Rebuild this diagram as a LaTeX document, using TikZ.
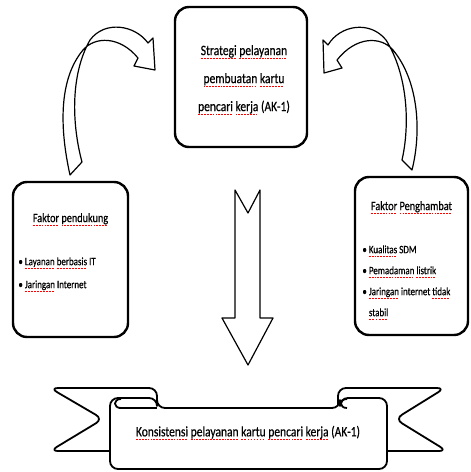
\documentclass[tikz,border=0pt]{standalone}
\usepackage{fontspec}
\setmainfont{Carlito}[FakeStretch=0.8, FakeBold=0.6]
\usetikzlibrary{positioning}
% red spell-check marks under some words
\newsavebox\typobox
\newcommand\typo[1]{\sbox\typobox{#1}\rlap{\color{red}\hbox to \wd\typobox{\xleaders\hbox{\rule[-1.9pt]{0.9pt}{0.5pt}\kern0.5pt}\hfill}}\usebox\typobox}
\tikzset{
box/.style={draw, line width=1.2pt, rounded corners=7pt, fill=white, inner sep=0pt},
txt/.style={inner sep=0pt, font=\fontsize{7.2}{14}\selectfont, align=center},
title/.style={txt, font=\fontsize{6.4}{8}\selectfont},
list/.style={inner sep=0pt, align=left, anchor=north west},
blockarrow/.style={draw, line width=0.6pt, fill=white, line join=round},
ribbon/.style={draw, line width=0.9pt, fill=white, line join=round},
}

\begin{document}
\begin{tikzpicture}[x=0.5pt, y=-0.5pt]
        \useasboundingbox (0,0) rectangle (471,472);
        % boxes
        \node[box, minimum width=66pt, minimum height=70pt] (strategi) at (241,77) {};
        \node[txt] (strategiT) at (244,80) {\typo{Strategi} \typo{pelayanan}\\ \typo{pembuatan} \typo{kartu}\\ \typo{pencari} \typo{kerja} (AK-1)};
        \node[box, minimum width=57.5pt, minimum height=77.5pt] (pendukung) at (70.5,259.5) {};
        \node[title, below=16pt of pendukung.north] (pendukungT) {\typo{Faktor} \typo{pendukung}};
        \node[list, font=\fontsize{5.6}{11.5}\selectfont] (pendukungL) at (18,257)
            {\textbullet\ \typo{Layanan} \typo{berbasis} IT\\ \textbullet\ \typo{Jaringan} Internet};
        \node[box, minimum width=56.5pt, minimum height=79pt] (penghambat) at (411.5,256) {};
        \node[title, below=12.5pt of penghambat.north] (penghambatT) {\typo{Faktor} \typo{Penghambat}};
        \node[list, font=\fontsize{5.6}{10.5}\selectfont] (penghambatL) at (362,245)
            {\textbullet\ \typo{Kualitas} SDM\\ \textbullet\ \typo{Pemadaman} \typo{listrik}\\
             \textbullet\ \typo{Jaringan} internet \typo{tidak}\\ \hphantom{\textbullet\ }\typo{stabil}};
        % curved arrows
        \draw[blockarrow] (70,175) .. controls (60,130) and (58,80) .. (83,50)
            .. controls (95,36) and (120,36) .. (138,58) -- (134,66) -- (155,70) -- (153,38) -- (148,43)
            .. controls (135,25) and (105,20) .. (90,40) .. controls (70,75) and (72,125) .. (82,162) -- cycle;
        \draw[blockarrow] (412,170) .. controls (422,130) and (418,80) .. (393,50)
            .. controls (381,36) and (356,36) .. (337,60) -- (342,68) -- (324,73) -- (323,40) -- (328,45)
            .. controls (340,25) and (370,20) .. (386,40) .. controls (408,75) and (410,125) .. (402,160) -- cycle;
        % down arrow
        \draw[blockarrow] (235,190) -- (248,213) -- (260,190) -- (260,318) -- (273,318)
            -- (248,365) -- (222,318) -- (235,318) -- cycle;
        % ribbon
        \draw[ribbon, rounded corners=4pt] (115,451) -- (50,451) -- (103,419) -- (50,388) -- (157,388) -- (157,412);
        \draw[ribbon, rounded corners=4pt] (382,451) -- (447,451) -- (395,419) -- (445,388) -- (338,388) -- (338,412);
        \draw[ribbon, rounded corners=4pt] (110,398) -- (110,469) -- (387,469) -- (387,398) -- (340,398)
            -- (340,408) -- (157,408) -- (157,398) -- cycle;
        \draw[ribbon, fill=none] (119,408) -- (157,408);
        \draw[ribbon, fill=none] (121,408) .. controls (113,408) and (113,399) .. (121,399);
        \draw[ribbon, fill=none] (347,408) .. controls (339,408) and (339,399) .. (347,399);
        \node[txt] (konsistensi) at (248,433) {\typo{Konsistensi} \typo{pelayanan} \typo{kartu} \typo{pencari} \typo{kerja} (AK-1)};
\end{tikzpicture}
\end{document}
